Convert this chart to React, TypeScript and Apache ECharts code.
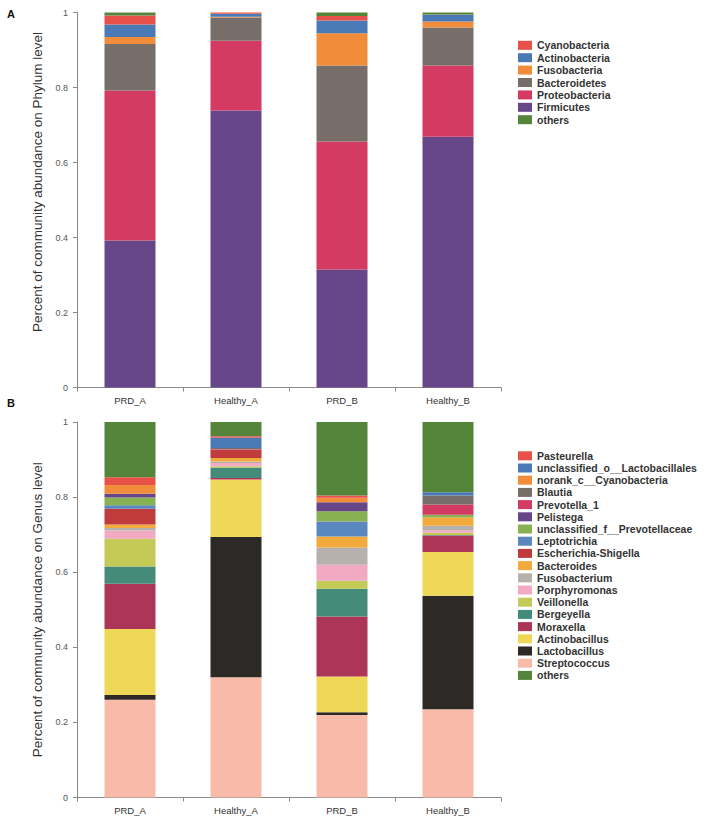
import React, { useEffect, useRef } from "react";
import * as echarts from "echarts";

const categories = ["PRD_A", "Healthy_A", "PRD_B", "Healthy_B"];
const yTicks = [0, 0.2, 0.4, 0.6, 0.8, 1];

// Phylum level (panel A)
const firmicutes = [0.392, 0.739, 0.315, 0.669];
const proteobacteria = [0.4, 0.186, 0.341, 0.19];
const bacteroidetes = [0.124, 0.062, 0.203, 0.101];
const fusobacteria = [0.019, 0.002, 0.086, 0.016];
const actinobacteria = [0.033, 0.008, 0.034, 0.018];
const cyanobacteria = [0.024, 0.003, 0.012, 0.001];
const phylumOthers = [0.008, 0.0, 0.009, 0.005];

// Genus level (panel B)
const streptococcus = [0.26, 0.32, 0.22, 0.235];
const lactobacillus = [0.013, 0.374, 0.007, 0.302];
const actinobacillus = [0.176, 0.153, 0.095, 0.117];
const moraxella = [0.12, 0.004, 0.16, 0.044];
const bergeyella = [0.046, 0.028, 0.074, 0.001];
const veillonella = [0.074, 0.003, 0.021, 0.006];
const porphyromonas = [0.022, 0.009, 0.043, 0.007];
const fusobacterium = [0.007, 0.004, 0.046, 0.012];
const bacteroides = [0.009, 0.009, 0.029, 0.022];
const escherichia = [0.042, 0.022, 0.0, 0.0];
const leptotrichia = [0.009, 0.001, 0.04, 0.0];
const prevotellaceae = [0.021, 0.0, 0.027, 0.007];
const pelistega = [0.01, 0.0, 0.024, 0.0];
const prevotella1 = [0.0, 0.001, 0.0, 0.027];
const blautia = [0.0, 0.003, 0.0, 0.024];
const cyanoGenus = [0.023, 0.0, 0.012, 0.0];
const lactobacillales = [0.0, 0.027, 0.0, 0.009];
const pasteurella = [0.021, 0.004, 0.006, 0.0];
const genusOthers = [0.147, 0.038, 0.196, 0.187];

const phylumSeries: [string, number[], string][] = [
  ["Firmicutes", firmicutes, "#664689"],
  ["Proteobacteria", proteobacteria, "#d33b62"],
  ["Bacteroidetes", bacteroidetes, "#776e6a"],
  ["Fusobacteria", fusobacteria, "#f08c3a"],
  ["Actinobacteria", actinobacteria, "#4a7ab5"],
  ["Cyanobacteria", cyanobacteria, "#e8504a"],
  ["others", phylumOthers, "#55843b"],
];

const genusSeries: [string, number[], string][] = [
  ["Streptococcus", streptococcus, "#f8bbaa"],
  ["Lactobacillus", lactobacillus, "#2d2926"],
  ["Actinobacillus", actinobacillus, "#efd858"],
  ["Moraxella", moraxella, "#ad3557"],
  ["Bergeyella", bergeyella, "#458b7a"],
  ["Veillonella", veillonella, "#c3ca55"],
  ["Porphyromonas", porphyromonas, "#f2a9c2"],
  ["Fusobacterium", fusobacterium, "#b7b1ae"],
  ["Bacteroides", bacteroides, "#f3aa3c"],
  ["Escherichia-Shigella", escherichia, "#c03b3b"],
  ["Leptotrichia", leptotrichia, "#5b87c0"],
  ["unclassified_f__Prevotellaceae", prevotellaceae, "#88b153"],
  ["Pelistega", pelistega, "#664689"],
  ["Prevotella_1", prevotella1, "#d33b62"],
  ["Blautia", blautia, "#776e6a"],
  ["norank_c__Cyanobacteria", cyanoGenus, "#f08c3a"],
  ["unclassified_o__Lactobacillales", lactobacillales, "#4a7ab5"],
  ["Pasteurella", pasteurella, "#e8504a"],
  ["others ", genusOthers, "#55843b"],
];

const FONT = "Liberation Sans, Arial, sans-serif";

function legendOrder(list: [string, number[], string][]) {
  const names = list.map((s) => s[0]);
  const others = names[names.length - 1];
  return [...names.slice(0, -1).reverse(), others];
}

function makeAxes(gridIndex: number, name: string, shiftUp: number) {
  const xAxis = {
    type: "category",
    gridIndex,
    data: categories,
    axisLine: { lineStyle: { color: "#8a8a8a", width: 1 } },
    axisTick: { show: true, length: 4, lineStyle: { color: "#8a8a8a" } },
    axisLabel: { color: "#333", fontSize: 9.5, fontFamily: FONT, margin: 8 },
  };
  const yAxis = {
    type: "value",
    gridIndex,
    min: yTicks[0],
    max: yTicks[yTicks.length - 1],
    interval: 0.2,
    name,
    nameLocation: "middle",
    nameGap: 33,
    nameTextStyle: {
      color: "#333",
      fontSize: 13.5,
      fontFamily: FONT,
      padding: [0, 0, 0, shiftUp],
    },
    axisLine: { show: true, lineStyle: { color: "#8a8a8a", width: 1 } },
    axisTick: { show: true, length: 4, lineStyle: { color: "#8a8a8a" } },
    splitLine: { show: false },
    axisLabel: { color: "#555", fontSize: 9, fontFamily: FONT, margin: 9 },
  };
  return { xAxis, yAxis };
}

export default function App() {
  const ref = useRef<HTMLDivElement>(null);
  useEffect(() => {
    if (!ref.current) return;
    const chart = echarts.init(ref.current, undefined, { renderer: "svg" });
    const a = makeAxes(0, "Percent of community abundance on Phylum level", 36);
    const b = makeAxes(1, "Percent of community abundance on Genus level", 0);
    const legendCommon = {
      orient: "vertical",
      left: 518,
      padding: 0,
      icon: "rect",
      itemWidth: 14,
      itemHeight: 9,
      selectedMode: false,
      textStyle: {
        color: "#333",
        fontSize: 10.5,
        fontWeight: "bold",
        fontFamily: FONT,
        lineHeight: 9,
      },
    };
    const series: any[] = [];
    phylumSeries.forEach(([name, data, color]) =>
      series.push({
        type: "bar",
        name,
        stack: "phylum",
        xAxisIndex: 0,
        yAxisIndex: 0,
        barWidth: 51,
        data,
        itemStyle: { color },
      })
    );
    genusSeries.forEach(([name, data, color]) =>
      series.push({
        type: "bar",
        name,
        stack: "genus",
        xAxisIndex: 1,
        yAxisIndex: 1,
        barWidth: 51,
        data,
        itemStyle: { color },
      })
    );
    chart.setOption({
      animation: false,
      backgroundColor: "#ffffff",
      grid: [
        { left: 77, top: 12.5, width: 424, height: 375 },
        { left: 77, top: 422, width: 424, height: 375.5 },
      ],
      xAxis: [a.xAxis, b.xAxis],
      yAxis: [a.yAxis, b.yAxis],
      legend: [
        { ...legendCommon, top: 39.8, itemGap: 1.4, data: legendOrder(phylumSeries) },
        { ...legendCommon, top: 450.3, itemGap: 1.2, data: legendOrder(genusSeries) },
      ],
      graphic: [
        {
          type: "text",
          left: 7,
          top: 8,
          style: { text: "A", font: `bold 11px ${FONT}`, fill: "#111" },
        },
        {
          type: "text",
          left: 7,
          top: 397,
          style: { text: "B", font: `bold 11px ${FONT}`, fill: "#111" },
        },
      ],
      series,
    });
    return () => chart.dispose();
  }, []);
  return (
    <div
      ref={ref}
      style={{ position: "fixed", left: 0, top: 0, width: 709, height: 838, background: "#fff" }}
    />
  );
}
